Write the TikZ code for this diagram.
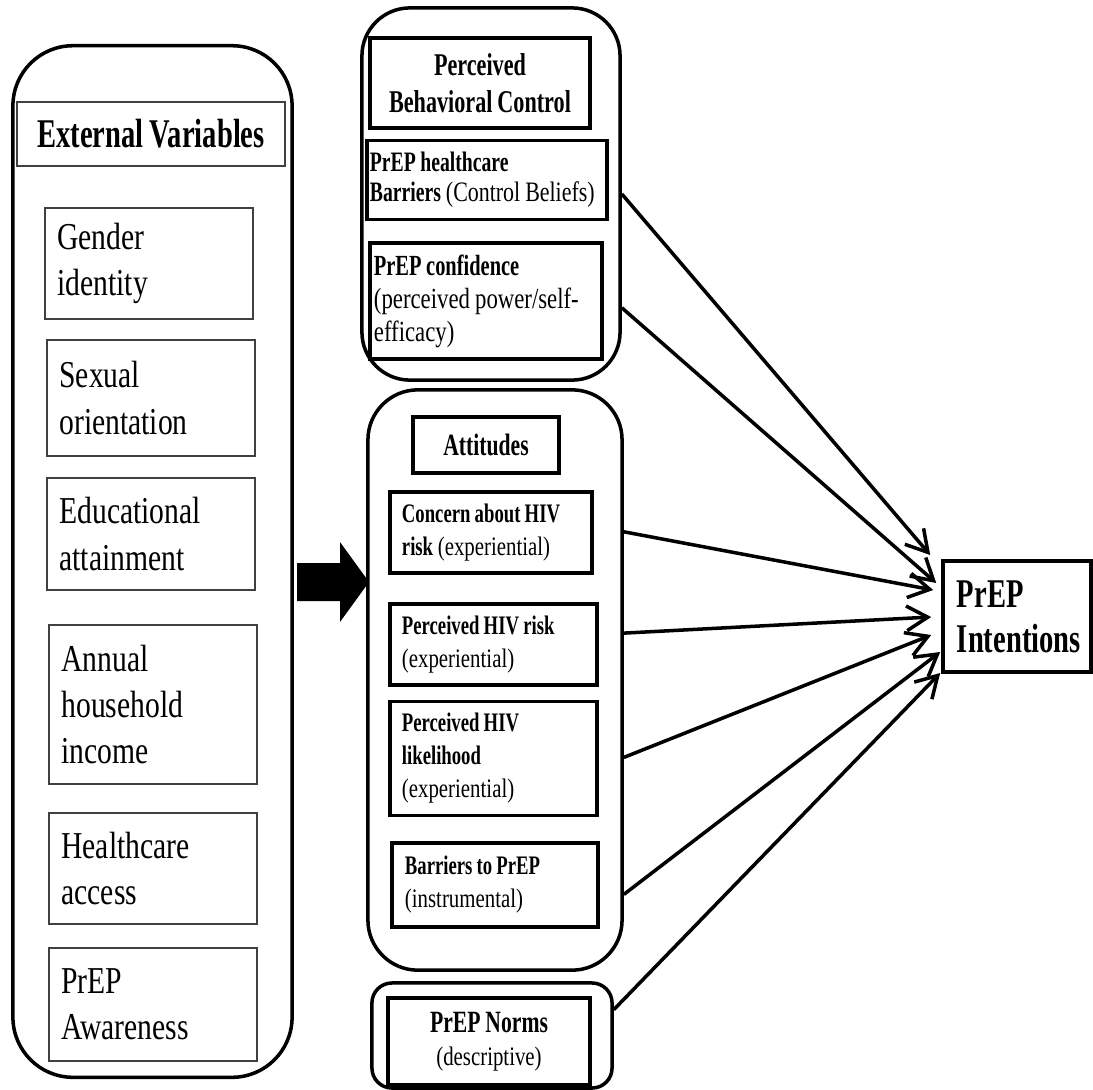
\documentclass[tikz,border=0pt]{standalone}
\usepackage{fontspec}
\setmainfont{Liberation Serif}[FakeStretch=0.78,WordSpace=0.9,
  BoldFeatures={FakeStretch=0.7}]
\usetikzlibrary{arrows.meta}

\begin{document}
\begin{tikzpicture}[x=0.01cm,y=-0.01cm,
    group/.style={draw,line width=1pt},
    thinbox/.style={draw=black!75,line width=0.6pt,align=flush left,
      minimum width=2.07cm,text width=1.83cm,inner xsep=0.12cm,
      font=\fontsize{10.8pt}{13.1pt}\selectfont},
    midbox/.style={draw,line width=1pt,align=flush left},
    link/.style={line width=1pt,-{Straight Barb[length=6pt,width=7pt,line width=1pt]}}]

      \useasboundingbox (0,0) rectangle (1093,1090);

      % containers
      \node[group,rounded corners=0.6cm,minimum width=2.79cm,minimum height=10.31cm] (extvar) at (152.5,561.5) {};
      \node[group,rounded corners=0.48cm,minimum width=2.58cm,minimum height=3.72cm] (pbc) at (491,194) {};
      \node[group,rounded corners=0.5cm,minimum width=2.54cm,minimum height=5.80cm] (att) at (495,680) {};
      \node[group,rounded corners=0.2cm,minimum width=2.40cm,minimum height=1.05cm] (norms) at (492,1035.5) {};

      % external variables
      \node[draw=black!75,line width=0.6pt,minimum width=2.68cm,minimum height=0.64cm,
        font=\fontsize{11.6pt}{13pt}\selectfont\bfseries] (title) at (151,134) {External Variables};
      \begin{scope}[every node/.style={thinbox}]
        \node[minimum height=1.11cm] (gender) at (149,263.5) {Gender\\identity};
        \node[minimum height=1.16cm] (sexor)  at (151,398)   {Sexual\\orientation};
        \node[minimum height=1.12cm] (educ)   at (151,534)   {Educational\\attainment};
        \node[minimum height=1.59cm] (income) at (153,704.5) {Annual\\household\\income};
        \node[minimum height=1.11cm] (access) at (153,868.5) {Healthcare\\access};
        \node[minimum height=1.13cm] (aware)  at (153,1004.5) {PrEP\\Awareness};
      \end{scope}

      % perceived behavioral control
      \node[midbox,align=center,minimum width=2.20cm,minimum height=0.90cm,
        font=\fontsize{9pt}{10.5pt}\selectfont\bfseries] (pbctitle) at (480,83) {Perceived\\Behavioral Control};
      \begin{scope}[every node/.style={midbox,font=\fontsize{8pt}{8.6pt}\selectfont}]
        \node[minimum width=2.40cm,minimum height=0.74cm,text width=2.34cm,inner xsep=0.03cm] (hcbarr) at (487,180)
          {\textbf{PrEP healthcare}\\\textbf{Barriers} (Control Beliefs)};
        \node[minimum width=2.32cm,minimum height=1.12cm,text width=2.24cm,inner xsep=0.04cm,
          font=\fontsize{8.3pt}{9.4pt}\selectfont] (conf) at (486,301)
          {\textbf{PrEP confidence}\\(perceived power/self-\\efficacy)};
      \end{scope}

      % attitudes
      \node[midbox,align=center,minimum width=1.46cm,minimum height=0.56cm,
        font=\fontsize{8.8pt}{9pt}\selectfont\bfseries] (atttitle) at (486,445) {Attitudes};
      \begin{scope}[every node/.style={midbox,inner xsep=0.12cm,font=\fontsize{7.6pt}{9.4pt}\selectfont}]
        \node[minimum width=2.02cm,minimum height=0.81cm,text width=1.78cm] (concern) at (491,532.5)
          {\textbf{Concern about HIV}\\\textbf{risk} (experiential)};
        \node[minimum width=2.07cm,minimum height=0.81cm,text width=1.83cm] (risk) at (493.5,644.5)
          {\textbf{Perceived HIV risk}\\(experiential)};
        \node[minimum width=2.07cm,minimum height=1.13cm,text width=1.83cm] (likely) at (493.5,758.5)
          {\textbf{Perceived HIV}\\\textbf{likelihood}\\(experiential)};
        \node[minimum width=2.06cm,minimum height=0.84cm,text width=1.80cm] (barr) at (495,885)
          {\textbf{Barriers to PrEP}\\(instrumental)};
      \end{scope}

      % norms
      \node[midbox,align=center,minimum width=2.02cm,minimum height=0.87cm,
        font=\fontsize{7.6pt}{9.4pt}\selectfont] (normbox) at (489,1041.5)
        {{\fontsize{8.8pt}{9.4pt}\selectfont\bfseries PrEP Norms}\\(descriptive)};

      % outcome
      \node[midbox,minimum width=1.48cm,minimum height=1.11cm,text width=1.20cm,inner xsep=0.14cm,
        font=\fontsize{11.6pt}{12.8pt}\selectfont\bfseries] (intent) at (1017,616.5) {PrEP\\Intentions};

      % block arrow
      \fill (297,563) -- (340,563) -- (340,542) -- (369,582) -- (340,622) -- (340,601) -- (297,601) -- cycle;

      \draw[link] (pbc.east)  -- ([shift={(-11,-61.5)}]intent.west);
      \draw[link] (pbc.-41)   -- ([shift={(-5,-33.5)}]intent.west);
      \draw[link] (att.49)    -- ([shift={(-8,-26.5)}]intent.west);
      \draw[link] (att.20)    -- ([shift={(-10,0.5)}]intent.west);
      \draw[link] (att.-31)   -- ([shift={(-10,18.5)}]intent.west);
      \draw[link] (att.-59.5) -- ([shift={(-1,35.5)}]intent.west);
      \draw[link] (norms.12)  -- ([shift={(-1,56.5)}]intent.west);

    \end{tikzpicture}
\end{document}
